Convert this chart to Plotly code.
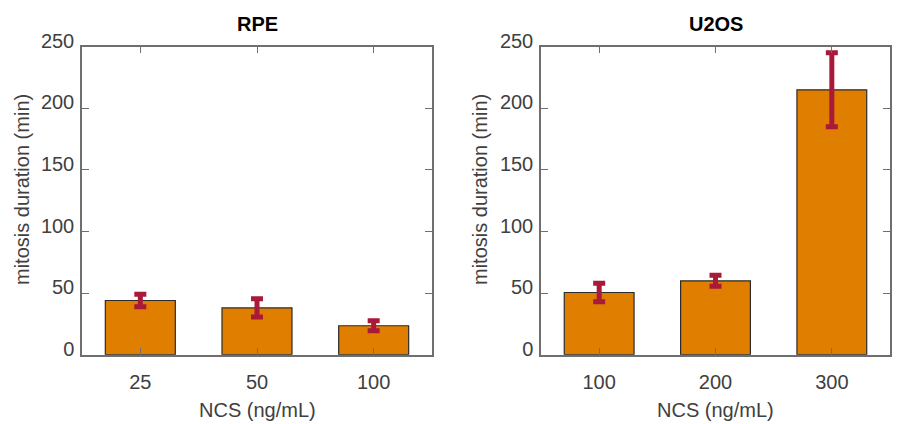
import plotly.graph_objects as go

# Data
rpe_doses = ["25", "50", "100"]
rpe_means = [44, 38, 23.5]
rpe_err = [5, 7.5, 4]

u2os_doses = ["100", "200", "300"]
u2os_means = [50.5, 60, 215]
u2os_err = [7.5, 4.5, 30]

y_ticks = [0, 50, 100, 150, 200, 250]
bar_color = "#E07E00"
err_color = "#A8193A"
font_family = "Liberation Sans, Arial, sans-serif"

W, H = 897, 424
fig = go.Figure()

fig.add_trace(go.Bar(
    x=rpe_doses, y=rpe_means, width=0.6,
    marker=dict(color=bar_color, line=dict(color="#2b2b2b", width=1.2)),
    error_y=dict(type="data", array=rpe_err, visible=True, color=err_color, thickness=5, width=6),
    xaxis="x", yaxis="y", showlegend=False,
))
fig.add_trace(go.Bar(
    x=u2os_doses, y=u2os_means, width=0.6,
    marker=dict(color=bar_color, line=dict(color="#2b2b2b", width=1.2)),
    error_y=dict(type="data", array=u2os_err, visible=True, color=err_color, thickness=5, width=6),
    xaxis="x2", yaxis="y2", showlegend=False,
))

x1 = [82 / W, 432 / W]
x2 = [541 / W, 890 / W]
ydom = [1 - 354.7 / H, 1 - 46.7 / H]

axis_common = dict(
    showline=True, linecolor="#6f6f6f", linewidth=1.5, mirror="ticks",
    ticks="inside", ticklen=7, tickwidth=1.3, tickcolor="#6f6f6f",
    showgrid=False, zeroline=False, automargin=False,
    tickfont=dict(family=font_family, size=20, color="#404040"),
)
xaxis_extra = dict(type="category", range=[-0.5, 2.5], ticklabelstandoff=9)
yaxis_extra = dict(range=[0, 250], tickvals=y_ticks, ticklabelshift=-6, ticklabelstandoff=2)

fig.update_layout(
    width=W, height=H,
    margin=dict(l=0, r=0, t=0, b=0),
    paper_bgcolor="white", plot_bgcolor="white",
    font=dict(family=font_family),
    xaxis=dict(domain=x1, anchor="y", **xaxis_extra, **axis_common),
    yaxis=dict(domain=ydom, anchor="x", **yaxis_extra, **axis_common),
    xaxis2=dict(domain=x2, anchor="y2", **xaxis_extra, **axis_common),
    yaxis2=dict(domain=ydom, anchor="x2", **yaxis_extra, **axis_common),
    bargap=0.4,
)

ann = []
title_font = dict(family=font_family, size=20, color="black")
lab_font = dict(family=font_family, size=20, color="#404040")
for xd, name in [(x1, "RPE"), (x2, "U2OS")]:
    xc = (xd[0] + xd[1]) / 2
    ann.append(dict(text="<b>%s</b>" % name, x=xc, y=1 - 23.5 / H, xref="paper", yref="paper",
                    showarrow=False, font=title_font, xanchor="center", yanchor="middle"))
    ann.append(dict(text="NCS (ng/mL)", x=xc, y=1 - 410 / H, xref="paper", yref="paper",
                    showarrow=False, font=lab_font, xanchor="center", yanchor="middle"))
for xpix in [22, 480]:
    ann.append(dict(text="mitosis duration (min)", x=xpix / W, y=1 - 190 / H,
                    xref="paper", yref="paper", showarrow=False, font=lab_font,
                    textangle=-90, xanchor="center", yanchor="middle"))
fig.update_layout(annotations=ann)

fig.write_html("out.html")
